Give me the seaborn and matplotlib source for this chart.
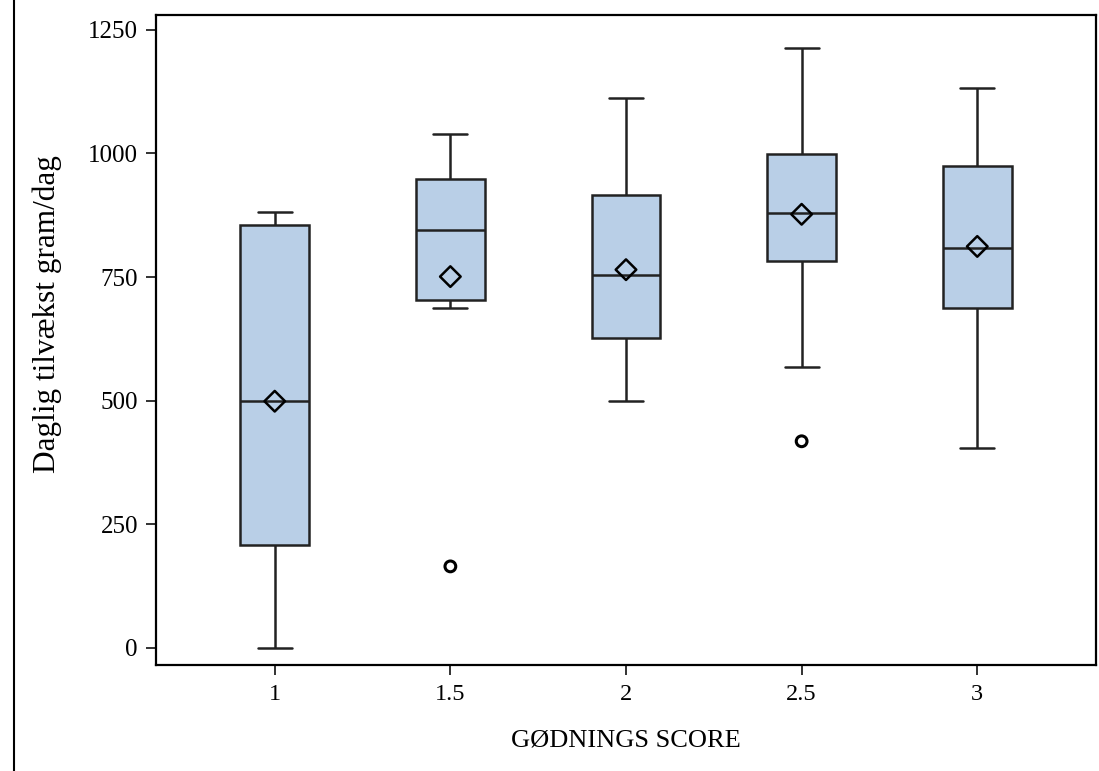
import numpy as np
import pandas as pd
import matplotlib
matplotlib.use("Agg")
import matplotlib.pyplot as plt
import seaborn as sns
from matplotlib.lines import Line2D

# -----------------------------
# DATA
# -----------------------------
groups = ["1", "1.5", "2", "2.5", "3"]
whisker_low = [0, 687, 499, 568, 404]
q1 = [208, 704, 626, 783, 687]
median = [500, 846, 755, 880, 808]
q3 = [855, 949, 916, 999, 974]
whisker_high = [882, 1040, 1113, 1213, 1132]
means = [499, 751, 765, 877, 812]
outlier_groups = ["1.5", "2.5"]
outlier_values = [165, 418]

yticks = [0, 250, 500, 750, 1000, 1250]

BOX_FILL = "#B9CFE7"
LINE_COL = "#222222"

# five-number summary per group -> rows for seaborn
rows = []
for g, lo, a, m, b, hi in zip(groups, whisker_low, q1, median, q3, whisker_high):
    for v in (lo, a, m, b, hi):
        rows.append({"score": g, "value": v})
df = pd.DataFrame(rows)

pos = {g: i for i, g in enumerate(groups)}

# -----------------------------
# PLOT
# -----------------------------
sns.set_style("white")
plt.rcParams["font.family"] = ["Liberation Serif", "DejaVu Serif"]
plt.rcParams["text.color"] = "black"
plt.rcParams["axes.labelcolor"] = "black"
plt.rcParams["xtick.color"] = "black"
plt.rcParams["ytick.color"] = "black"

fig = plt.figure(figsize=(10.99, 7.71), dpi=100)
ax = fig.add_axes([156 / 1099, 106 / 771, 940 / 1099, 650 / 771])

sns.boxplot(data=df, x="score", y="value", order=groups, ax=ax,
            color=BOX_FILL, saturation=1, width=0.39, whis=(0, 100),
            showfliers=False, linecolor=LINE_COL, linewidth=1.8)

# means (open diamonds) and outliers (open circles)
sns.scatterplot(x=[pos[g] for g in groups], y=means, ax=ax, marker="D",
                s=110, facecolors="none", edgecolor="black", linewidth=1.8,
                zorder=5)
sns.scatterplot(x=[pos[g] for g in outlier_groups], y=outlier_values, ax=ax,
                marker="o", s=60, facecolors="none", edgecolor="black",
                linewidth=2.2, zorder=5)

ax.set_xlim(-0.676, 4.676)
ax.set_ylim(-34.4, 1280)
ax.set_yticks(yticks)
ax.set_xticks(range(len(groups)))
ax.set_xticklabels(groups)
ax.tick_params(axis="x", labelsize=17.5, length=7, width=1.3, color=LINE_COL,
               labelcolor="black", direction="out", bottom=True, pad=7)
ax.tick_params(axis="y", labelsize=18, length=7, width=1.3, color=LINE_COL,
               labelcolor="black", direction="out", left=True, pad=6)
for s in ax.spines.values():
    s.set_color("black")
    s.set_linewidth(1.6)

ax.set_xlabel("GØDNINGS SCORE", fontsize=19, labelpad=17, color="black")
ax.set_ylabel("Daglig tilvækst gram/dag", fontsize=22.5, color="black")
ax.yaxis.set_label_coords((62 - 156) / 940, (665 - 314) / 650)

# thin rule at the far left edge of the figure
fig.add_artist(Line2D([14 / 1099, 14 / 1099], [0, 1], color="black",
                      linewidth=1.5, transform=fig.transFigure))

fig.savefig("out.png", dpi=100)
